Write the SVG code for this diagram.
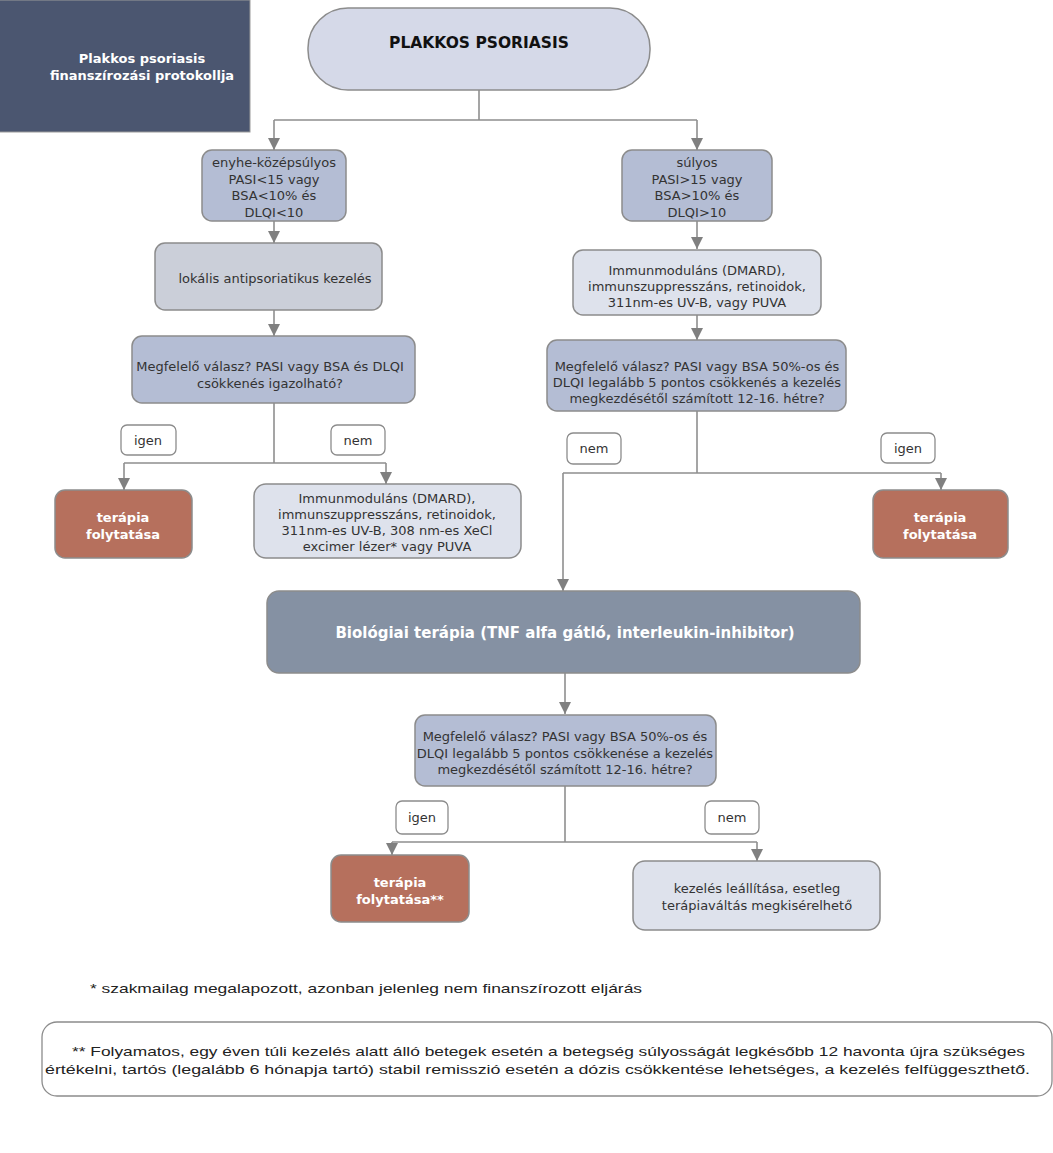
<svg xmlns="http://www.w3.org/2000/svg" width="1053" height="1153" viewBox="0 0 1053 1153">
<style>
.t{font-family:"DejaVu Sans",Verdana,sans-serif;font-size:13px;fill:#333;text-anchor:middle}
.b{font-family:"DejaVu Sans",Verdana,sans-serif;font-weight:bold;text-anchor:middle}
.w{fill:#fff}
.n{stroke:#8c8c8c;stroke-width:1.5}
.q{fill:#b4bdd4}
.l{fill:#dee2ec}
.r{fill:#b6705d}
.lab{fill:#fff;stroke:#8c8c8c;stroke-width:1.3}
.c{fill:none;stroke:#8f8f8f;stroke-width:1.6}
.f{font-family:"Liberation Sans",Arial,sans-serif;font-size:13px;fill:#222}
</style>
<defs>
<marker id="a" markerWidth="12" markerHeight="12" refX="10" refY="5" orient="auto" markerUnits="userSpaceOnUse" viewBox="0 0 10 10">
<path d="M0,0 L10,5 L0,10 z" fill="#808080"/>
</marker>
</defs>
<rect width="1053" height="1153" fill="#fff"/>

<g id="connectors">
<path class="c" d="M479,90 V120 M274,120 H697"/>
<path class="c" d="M274,120 V150" marker-end="url(#a)"/>
<path class="c" d="M697,120 V150" marker-end="url(#a)"/>
<path class="c" d="M274,221 V243" marker-end="url(#a)"/>
<path class="c" d="M274,310 V336" marker-end="url(#a)"/>
<path class="c" d="M274,403 V463 M124,463 H386"/>
<path class="c" d="M124,463 V490" marker-end="url(#a)"/>
<path class="c" d="M386,463 V484" marker-end="url(#a)"/>
<path class="c" d="M697,221 V249" marker-end="url(#a)"/>
<path class="c" d="M697,315 V340" marker-end="url(#a)"/>
<path class="c" d="M697,411 V473 M563,473 H941"/>
<path class="c" d="M941,473 V490" marker-end="url(#a)"/>
<path class="c" d="M563,473 V591" marker-end="url(#a)"/>
<path class="c" d="M565,673 V714" marker-end="url(#a)"/>
<path class="c" d="M565,786 V842 M392,842 H757"/>
<path class="c" d="M392,842 V855" marker-end="url(#a)"/>
<path class="c" d="M757,842 V861" marker-end="url(#a)"/>
</g>

<g id="title">
<rect x="-10" y="0" width="260" height="132" fill="#4b5670" stroke="#9a9a9a" stroke-width="1"/>
<text class="b w" font-size="13" x="142" y="63">Plakkos psoriasis</text>
<text class="b w" font-size="13" x="142" y="80">finanszírozási protokollja</text>
</g>

<g id="start">
<rect class="n" x="308" y="8" width="342" height="82" rx="40" fill="#d5d9e8"/>
<text class="b" font-size="15.5" fill="#111" x="479" y="48">PLAKKOS PSORIASIS</text>
</g>

<g id="mild">
<rect class="n q" x="202" y="150" width="144" height="71" rx="10"/>
<text class="t" x="274" y="167">enyhe-középsúlyos</text>
<text class="t" x="274" y="184">PASI&lt;15 vagy</text>
<text class="t" x="274" y="200">BSA&lt;10% és</text>
<text class="t" x="274" y="217">DLQI&lt;10</text>
</g>

<g id="severe">
<rect class="n q" x="622" y="150" width="150" height="71" rx="10"/>
<text class="t" x="697" y="167">súlyos</text>
<text class="t" x="697" y="184">PASI&gt;15 vagy</text>
<text class="t" x="697" y="200">BSA&gt;10% és</text>
<text class="t" x="697" y="217">DLQI&gt;10</text>
</g>

<g id="local">
<rect class="n" x="155" y="243" width="227" height="67" rx="10" fill="#cbcfd9"/>
<text class="t" x="275" y="283">lokális antipsoriatikus kezelés</text>
</g>

<g id="q1">
<rect class="n q" x="132" y="336" width="283" height="67" rx="10"/>
<text class="t" x="270" y="371">Megfelelő válasz? PASI vagy BSA és DLQI</text>
<text class="t" x="270" y="388">csökkenés igazolható?</text>
</g>

<g id="lab-igen1"><rect class="lab" x="121" y="425" width="55" height="30" rx="6"/><text class="t" x="148" y="445">igen</text></g>
<g id="lab-nem1"><rect class="lab" x="331" y="425" width="54" height="30" rx="6"/><text class="t" x="358" y="445">nem</text></g>

<g id="cont1">
<rect class="n r" x="55" y="490" width="137" height="68" rx="10"/>
<text class="b w" font-size="13" x="123" y="522">terápia</text>
<text class="b w" font-size="13" x="123" y="539">folytatása</text>
</g>

<g id="immuno1">
<rect class="n l" x="254" y="484" width="267" height="74" rx="12"/>
<text class="t" x="387" y="503">Immunmoduláns (DMARD),</text>
<text class="t" x="387" y="519">immunszuppresszáns, retinoidok,</text>
<text class="t" x="387" y="535">311nm-es UV-B, 308 nm-es XeCl</text>
<text class="t" x="387" y="551">excimer lézer* vagy PUVA</text>
</g>

<g id="immuno2">
<rect class="n l" x="573" y="250" width="248" height="65" rx="10"/>
<text class="t" x="697" y="275">Immunmoduláns (DMARD),</text>
<text class="t" x="697" y="291">immunszuppresszáns, retinoidok,</text>
<text class="t" x="697" y="307">311nm-es UV-B, vagy PUVA</text>
</g>

<g id="q2">
<rect class="n q" x="547" y="340" width="299" height="71" rx="10"/>
<text class="t" x="697" y="371">Megfelelő válasz? PASI vagy BSA  50%-os és</text>
<text class="t" x="697" y="387">DLQI legalább 5 pontos  csökkenés a kezelés</text>
<text class="t" x="697" y="403">megkezdésétől számított 12-16. hétre?</text>
</g>

<g id="lab-nem2"><rect class="lab" x="567" y="433" width="54" height="31" rx="6"/><text class="t" x="594" y="453">nem</text></g>
<g id="lab-igen2"><rect class="lab" x="881" y="433" width="54" height="30" rx="6"/><text class="t" x="908" y="453">igen</text></g>

<g id="cont2">
<rect class="n r" x="873" y="490" width="135" height="68" rx="10"/>
<text class="b w" font-size="13" x="940" y="522">terápia</text>
<text class="b w" font-size="13" x="940" y="539">folytatása</text>
</g>

<g id="bio">
<rect class="n" x="267" y="591" width="593" height="82" rx="12" fill="#8591a3"/>
<text class="b w" font-size="15" x="565" y="638">Biológiai terápia (TNF alfa gátló, interleukin-inhibitor)</text>
</g>

<g id="q3">
<rect class="n q" x="415" y="715" width="301" height="71" rx="10"/>
<text class="t" x="565" y="741">Megfelelő válasz? PASI vagy BSA 50%-os és</text>
<text class="t" x="565" y="758">DLQI legalább 5 pontos csökkenése a kezelés</text>
<text class="t" x="565" y="774">megkezdésétől számított 12-16. hétre?</text>
</g>

<g id="lab-igen3"><rect class="lab" x="396" y="801" width="52" height="33" rx="6"/><text class="t" x="422" y="822">igen</text></g>
<g id="lab-nem3"><rect class="lab" x="705" y="801" width="54" height="33" rx="6"/><text class="t" x="732" y="822">nem</text></g>

<g id="cont3">
<rect class="n r" x="331" y="855" width="138" height="67" rx="10"/>
<text class="b w" font-size="13" x="400" y="887">terápia</text>
<text class="b w" font-size="13" x="400" y="904">folytatása**</text>
</g>

<g id="stop">
<rect class="n l" x="633" y="861" width="247" height="69" rx="12"/>
<text class="t" x="757" y="893">kezelés leállítása, esetleg</text>
<text class="t" x="757" y="910">terápiaváltás megkisérelhető</text>
</g>

<g id="note1">
<text class="f" x="90" y="993" textLength="552" lengthAdjust="spacingAndGlyphs">* szakmailag megalapozott, azonban jelenleg nem finanszírozott eljárás</text>
</g>

<g id="note2">
<rect x="42" y="1022" width="1010" height="74" rx="15" fill="#fff" stroke="#8c8c8c" stroke-width="1.3"/>
<text class="f" x="72" y="1056" textLength="953" lengthAdjust="spacingAndGlyphs">** Folyamatos, egy éven túli kezelés alatt álló betegek esetén a betegség súlyosságát legkésőbb 12 havonta újra szükséges</text>
<text class="f" x="45" y="1074" textLength="985" lengthAdjust="spacingAndGlyphs">értékelni, tartós (legalább 6 hónapja tartó) stabil remisszió esetén a dózis csökkentése lehetséges, a kezelés felfüggeszthető.</text>
</g>
</svg>
